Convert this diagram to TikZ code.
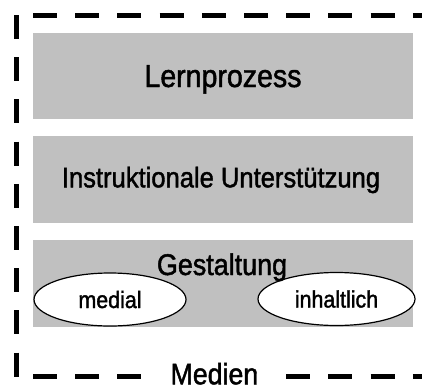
\documentclass[tikz,border=0pt]{standalone}
\usepackage{fontspec}
\setmainfont{Liberation Sans}[FakeStretch=0.9,FakeBold=1.5]
\usetikzlibrary{shapes.geometric}
\definecolor{boxgray}{HTML}{C0C0C0}
\begin{document}
\begin{tikzpicture}[x=1pt,y=-1pt,
  border/.style={line width=5pt, dash pattern=on 24pt off 18.2pt},
  graybox/.style={fill=boxgray, draw=none, minimum width=380pt, minimum height=86.7pt, inner sep=0pt},
  titletext/.style={inner sep=0pt, anchor=base},
  ell/.style={ellipse, draw=black, line width=1.2pt, fill=white, inner sep=0pt, font=\fontsize{23.8pt}{28pt}\selectfont}
]
\useasboundingbox (0,0) rectangle (422,388);
\fill[white] (0,0) rectangle (422,388);
% dashed frame
\coordinate (tl) at (16.3,15);
\coordinate (bl) at (16.3,380);
\coordinate (ts) at (33,15.5);
\coordinate (te) at (440,15.5);
\coordinate (bs) at (33,376);
\coordinate (be) at (440,376);
\draw[border] (tl) -- (bl);
\draw[border] (ts) -- (te);
\draw[border] (bs) -- (be);
% boxes
\node[graybox] (lern) at (223.3,76) {};
\node[graybox] (instr) at (223.3,179.3) {};
\node[graybox] (gestbox) at (223.3,283.3) {};
\node[titletext, font=\fontsize{31.7pt}{36pt}\selectfont] (lerntext) at (223,87) {Lernprozess};
\node[titletext, font=\fontsize{28.4pt}{34pt}\selectfont] (instrtext) at (221,187.3) {Instruktionale Unterstützung};
% ellipses
\node[ell, minimum width=152pt, minimum height=53pt] (medial) at (110,299.5) {medial};
\node[ell, minimum width=157pt, minimum height=53pt] (inhalt) at (336.5,299) {inhaltlich};
\node[titletext, font=\fontsize{29.9pt}{34pt}\selectfont] (gest) at (222,275) {Gestaltung};
% Medien label
\node[fill=white, inner sep=0pt, minimum width=140pt, anchor=base,
      font=\fontsize{29.7pt}{34pt}\selectfont] (medien) at (214.4,384.3) {Medien};
\end{tikzpicture}
\end{document}
